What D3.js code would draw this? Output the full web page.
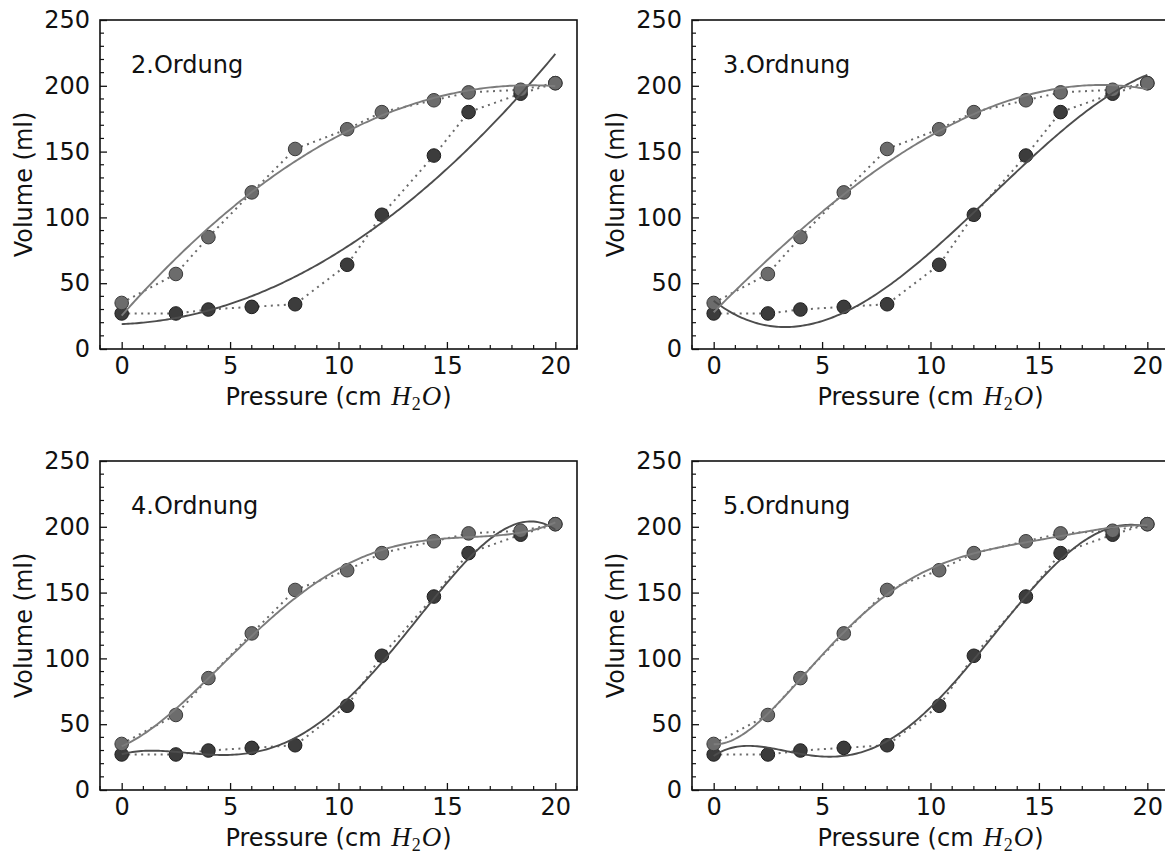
<!DOCTYPE html>
<html>
<head>
<meta charset="utf-8">
<script src="https://cdn.jsdelivr.net/npm/d3@7"></script>
<style>
  html, body { margin: 0; padding: 0; background: #fff; }
  svg { display: block; }
  text { font-family: "DejaVu Sans", sans-serif; fill: #111; }
</style>
</head>
<body>
<svg id="chart" width="1165" height="854"></svg>
<script>
// Pressure steps (cm H2O)
const pressure = [0, 2.5, 4, 6, 8, 10.4, 12, 14.4, 16, 18.4, 20];
// Inflation limb (upper curve) and deflation limb (lower curve), ml
const inflation = [35, 57, 85, 119, 152, 167, 180, 189, 195, 197, 202];
const deflation = [27, 27, 30, 32, 34, 64, 102, 147, 180, 194, 202];
// Polynomial order per panel and its caption
const orders = [2, 3, 4, 5];
const captions = ["2.Ordung", "3.Ordnung", "4.Ordnung", "5.Ordnung"];
const yTicks = [0, 50, 100, 150, 200, 250];
const xTicks = [0, 5, 10, 15, 20];

// Least-squares polynomial fit (x normalised to [0,1] for conditioning)
function polyfit(xs, ys, deg, xMax) {
  const n = deg + 1;
  const A = Array.from({length: n}, () => new Array(n).fill(0));
  const b = new Array(n).fill(0);
  xs.forEach((x, k) => {
    const t = x / xMax;
    for (let i = 0; i < n; i++) {
      b[i] += ys[k] * Math.pow(t, i);
      for (let j = 0; j < n; j++) A[i][j] += Math.pow(t, i + j);
    }
  });
  for (let c = 0; c < n; c++) {
    let p = c;
    for (let r = c + 1; r < n; r++) if (Math.abs(A[r][c]) > Math.abs(A[p][c])) p = r;
    [A[c], A[p]] = [A[p], A[c]]; [b[c], b[p]] = [b[p], b[c]];
    for (let r = c + 1; r < n; r++) {
      const f = A[r][c] / A[c][c];
      for (let j = c; j < n; j++) A[r][j] -= f * A[c][j];
      b[r] -= f * b[c];
    }
  }
  const coef = new Array(n).fill(0);
  for (let i = n - 1; i >= 0; i--) {
    let s = b[i];
    for (let j = i + 1; j < n; j++) s -= A[i][j] * coef[j];
    coef[i] = s / A[i][i];
  }
  return x => coef.reduce((acc, c, i) => acc + c * Math.pow(x / xMax, i), 0);
}

const svg = d3.select("#chart");
const W = 477, H = 329;
const panels = [
  {left: 100, top: 20}, {left: 692, top: 20},
  {left: 100, top: 461}, {left: 692, top: 461}
];
const fontSize = 24;

const series = [
  {values: deflation, fill: "#3c3c3c", stroke: "#1e1e1e", fit: "#4d4d4d"},
  {values: inflation, fill: "#6c6c6c", stroke: "#3a3a3a", fit: "#7c7c7c"}
];

panels.forEach((p, idx) => {
  const g = svg.append("g").attr("transform", `translate(${p.left},${p.top})`);
  const x = d3.scaleLinear().domain([-1, 21]).range([0, W]);
  const y = d3.scaleLinear().domain([0, 250]).range([H, 0]);

  const clipId = "clip" + idx;
  g.append("clipPath").attr("id", clipId)
    .append("rect").attr("width", W).attr("height", H);
  const plot = g.append("g").attr("clip-path", `url(#${clipId})`);

  // dotted connectors between measured points
  series.forEach(s => {
    plot.append("path")
      .datum(pressure.map((px, i) => [px, s.values[i]]))
      .attr("fill", "none")
      .attr("stroke", "#6a6a6a")
      .attr("stroke-width", 2)
      .attr("stroke-dasharray", "2,4.5")
      .attr("d", d3.line().x(d => x(d[0])).y(d => y(d[1])));
  });

  // markers
  series.forEach(s => {
    plot.selectAll(null)
      .data(pressure.map((px, i) => [px, s.values[i]]))
      .join("circle")
      .attr("cx", d => x(d[0]))
      .attr("cy", d => y(d[1]))
      .attr("r", 6.8)
      .attr("fill", s.fill)
      .attr("stroke", s.stroke)
      .attr("stroke-width", 1);
  });

  // polynomial fits
  const fine = d3.range(0, 20.0001, 0.1);
  series.forEach(s => {
    const f = polyfit(pressure, s.values, orders[idx], 20);
    plot.append("path")
      .datum(fine.map(px => [px, f(px)]))
      .attr("fill", "none")
      .attr("stroke", s.fit)
      .attr("stroke-width", 1.9)
      .attr("d", d3.line().x(d => x(d[0])).y(d => y(d[1])));
  });

  // frame
  g.append("rect").attr("width", W).attr("height", H)
    .attr("fill", "none").attr("stroke", "#111").attr("stroke-width", 1.6);

  // y ticks (inward), minor every 10
  const yAxis = d3.axisLeft(y).tickValues(yTicks).tickSize(-7).tickPadding(10);
  const ya = g.append("g").call(yAxis);
  ya.select(".domain").remove();
  ya.selectAll("line").attr("stroke", "#111").attr("stroke-width", 1.3);
  ya.selectAll("text").attr("font-size", fontSize).attr("font-family", "DejaVu Sans").attr("fill", "#111");
  g.append("g").selectAll("line")
    .data(d3.range(0, 251, 10).filter(v => v % 50 !== 0))
    .join("line")
    .attr("x1", 0).attr("x2", 4)
    .attr("y1", d => y(d)).attr("y2", d => y(d))
    .attr("stroke", "#111").attr("stroke-width", 1.2);

  // x ticks (inward), minor every 1
  const xAxis = d3.axisBottom(x).tickValues(xTicks).tickSize(-7).tickPadding(8);
  const xa = g.append("g").attr("transform", `translate(0,${H})`).call(xAxis);
  xa.select(".domain").remove();
  xa.selectAll("line").attr("stroke", "#111").attr("stroke-width", 1.3);
  xa.selectAll("text").attr("font-size", fontSize).attr("font-family", "DejaVu Sans").attr("fill", "#111");
  g.append("g").selectAll("line")
    .data(d3.range(-1, 21.01, 1).filter(v => v % 5 !== 0))
    .join("line")
    .attr("x1", d => x(d)).attr("x2", d => x(d))
    .attr("y1", H).attr("y2", H - 4)
    .attr("stroke", "#111").attr("stroke-width", 1.2);

  // caption
  g.append("text")
    .attr("x", 31).attr("y", 53)
    .attr("font-size", fontSize)
    .text(captions[idx]);

  // axis titles
  g.append("text")
    .attr("transform", `translate(-68,${H / 2}) rotate(-90)`)
    .attr("text-anchor", "middle")
    .attr("font-size", fontSize)
    .text("Volume (ml)");

  const xl = g.append("text")
    .attr("x", W / 2).attr("y", H + 56)
    .attr("text-anchor", "middle")
    .attr("font-size", fontSize);
  xl.append("tspan").text("Pressure (cm\u00a0");
  xl.append("tspan").attr("font-family", "Liberation Serif").attr("font-style", "italic").attr("font-size", 27).attr("dx", 2).text("H");
  xl.append("tspan").attr("font-family", "Liberation Serif").attr("font-size", 18).attr("dx", 1).attr("dy", 5).text("2");
  xl.append("tspan").attr("font-family", "Liberation Serif").attr("font-style", "italic").attr("font-size", 27).attr("dx", 1).attr("dy", -5).text("O");
  xl.append("tspan").attr("dx", 1).text(")");
});
</script>
</body>
</html>
